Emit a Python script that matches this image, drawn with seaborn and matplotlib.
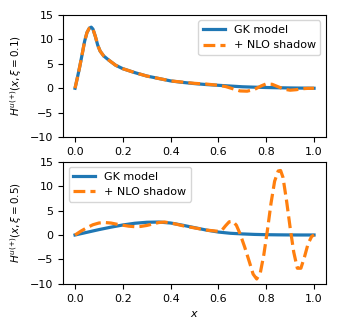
import numpy as np
import pandas as pd
import seaborn as sns
import matplotlib.pyplot as plt

# xi = 0.1 panel
x_top = [0.0, 0.01, 0.02, 0.03, 0.04, 0.05, 0.06, 0.068, 0.075, 0.085, 0.095, 0.105, 0.12, 0.14,
         0.17, 0.2, 0.25, 0.3, 0.35, 0.4, 0.45, 0.5, 0.55, 0.6, 0.65, 0.7, 0.75, 0.8, 0.85, 0.9, 0.95, 1.0]
gk_top = [0.0, 2.2, 4.5, 7.0, 9.6, 11.4, 12.3, 12.5, 12.1, 10.6, 8.8, 7.6, 6.6, 5.8,
          4.7, 4.0, 3.2, 2.5, 2.0, 1.5, 1.2, 0.95, 0.75, 0.6, 0.45, 0.3, 0.22, 0.15, 0.1, 0.06, 0.03, 0.0]
x_top_nlo = [0.0, 0.01, 0.02, 0.03, 0.04, 0.05, 0.06, 0.068, 0.075, 0.085, 0.095, 0.105, 0.12, 0.14,
             0.17, 0.2, 0.25, 0.3, 0.35, 0.4, 0.45, 0.5, 0.55, 0.6, 0.63, 0.66, 0.69, 0.72, 0.75,
             0.78, 0.8, 0.825, 0.85, 0.875, 0.9, 0.925, 0.95, 0.975, 1.0]
nlo_top = [0.0, 2.2, 4.5, 7.0, 9.6, 11.4, 12.3, 12.5, 12.1, 10.6, 8.8, 7.6, 6.6, 5.8,
           4.7, 4.0, 3.2, 2.5, 2.0, 1.5, 1.25, 1.0, 0.85, 0.6, 0.35, -0.1, -0.55, -0.6, -0.25,
           0.5, 0.9, 0.8, 0.3, -0.2, -0.4, -0.3, -0.1, -0.02, 0.0]

# xi = 0.5 panel
x_bot = [0.0, 0.05, 0.1, 0.15, 0.2, 0.25, 0.3, 0.35, 0.4, 0.45, 0.5, 0.55, 0.6, 0.65, 0.7,
         0.75, 0.8, 0.85, 0.9, 0.95, 1.0]
gk_bot = [0.0, 0.55, 1.1, 1.6, 2.05, 2.4, 2.6, 2.65, 2.45, 2.0, 1.5, 1.0, 0.6, 0.35, 0.22,
          0.12, 0.06, 0.03, 0.01, 0.0, 0.0]
x_bot_nlo = [0.0, 0.025, 0.05, 0.075, 0.1, 0.125, 0.15, 0.175, 0.2, 0.225, 0.25, 0.275, 0.3,
             0.325, 0.35, 0.375, 0.4, 0.425, 0.45, 0.5, 0.55, 0.6, 0.615, 0.63, 0.645, 0.66,
             0.675, 0.69, 0.71, 0.73, 0.745, 0.76, 0.775, 0.79, 0.805, 0.82, 0.835, 0.85,
             0.86, 0.87, 0.885, 0.9, 0.915, 0.93, 0.945, 0.96, 0.975, 0.99, 1.0]
nlo_bot = [0.0, 0.8, 1.5, 2.1, 2.45, 2.55, 2.45, 2.2, 2.0, 1.8, 1.7, 1.75, 1.95,
           2.25, 2.55, 2.65, 2.45, 2.2, 1.9, 1.45, 1.0, 0.75, 1.0, 1.9, 2.7, 2.8,
           2.0, 0.3, -2.5, -5.6, -8.0, -9.0, -7.8, -4.0, 1.0, 6.5, 11.0, 13.1,
           13.2, 11.8, 7.0, 1.5, -3.5, -6.8, -6.8, -4.5, -1.8, -0.3, 0.0]

panels = [
    (x_top, gk_top, x_top_nlo, nlo_top, r"$H^{u(+)}(x, \xi = 0.1)$", "upper right"),
    (x_bot, gk_bot, x_bot_nlo, nlo_bot, r"$H^{u(+)}(x, \xi = 0.5)$", "upper left"),
]

plt.rcParams["font.size"] = 8
fig = plt.figure(figsize=(3.41, 3.32), dpi=100)
ax1 = fig.add_axes([0.185, 0.587, 0.771, 0.368])
ax2 = fig.add_axes([0.185, 0.145, 0.771, 0.368])

for ax, (xg, yg, xn, yn, ylab, loc) in zip([ax1, ax2], panels):
    sns.lineplot(x=xg, y=yg, ax=ax, color="#1f77b4", lw=2.3, label="GK model", sort=False)
    sns.lineplot(x=xn, y=yn, ax=ax, color="#ff7f0e", lw=2.3, ls="--", label="+ NLO shadow", sort=False)
    ax.set_ylim(-10, 15)
    ax.set_yticks([-10, -5, 0, 5, 10, 15])
    ax.set_xticks([0.0, 0.2, 0.4, 0.6, 0.8, 1.0])
    ax.set_ylabel(ylab, fontsize=7.5)
    ax.legend(loc=loc, fontsize=8)
    ax.tick_params(labelsize=8)

ax2.set_xlabel("$x$", fontsize=8)
fig.savefig("out.png", dpi=100)
